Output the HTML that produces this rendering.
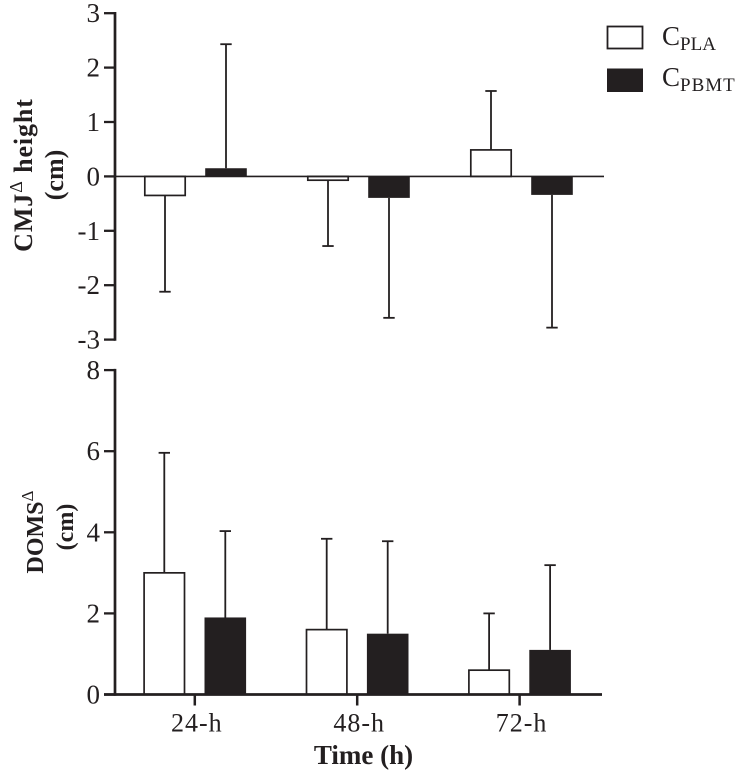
<!DOCTYPE html>
<html>
<head>
<meta charset="utf-8">
<style>
html,body{margin:0;padding:0;background:#fff}
svg{display:block}
text{font-family:"Liberation Serif",serif;fill:#231f20}
</style>
</head>
<body>
<svg id="chart" width="739" height="774" viewBox="0 0 739 774" xmlns="http://www.w3.org/2000/svg">
  <g>
    <rect x="607.5" y="26.5" width="35" height="22" fill="#fff" stroke="#231f20" stroke-width="1.8"/>
    <text x="662" y="45" font-size="27">C<tspan font-size="19" dy="5">PLA</tspan></text>
    <rect x="607" y="68.5" width="36" height="23.5" fill="#231f20"/>
    <text x="662" y="86" font-size="27">C<tspan font-size="19" dy="5" letter-spacing="1">PBMT</tspan></text>
  </g>
  <g>
    <text transform="translate(32,175) rotate(-90)" text-anchor="middle" font-size="26" font-weight="bold" letter-spacing="0.9">CMJ<tspan font-weight="normal" font-size="18" dy="-10">Δ</tspan><tspan dy="10"> height</tspan></text>
    <text transform="translate(63,175) rotate(-90)" text-anchor="middle" font-size="26" font-weight="bold">(cm)</text>
  </g>
  <g>
    <text transform="translate(43,532) rotate(-90)" text-anchor="middle" font-size="24" font-weight="bold">DOMS<tspan font-weight="normal" font-size="17" dy="-10">Δ</tspan></text>
    <text transform="translate(73,527) rotate(-90)" text-anchor="middle" font-size="24" font-weight="bold">(cm)</text>
  </g>
  <text x="363.5" y="764" text-anchor="middle" font-size="27" font-weight="bold">Time (h)</text>
  <g id="plots"></g>
</svg>
<script>
const categories = ['24-h', '48-h', '72-h'];
const cmjTicks = [3, 2, 1, 0, -1, -2, -3];
const domsTicks = [8, 6, 4, 2, 0];
const cmjPla = [-0.35, -0.07, 0.487];
const cmjPbmt = [0.15, -0.395, -0.34];
const cmjPlaErrorEnd = [-2.12, -1.28, 1.57];
const cmjPbmtErrorEnd = [2.43, -2.6, -2.78];
const domsPla = [3.0, 1.6, 0.6];
const domsPbmt = [1.9, 1.5, 1.1];
const domsPlaErrorEnd = [5.96, 3.84, 2.0];
const domsPbmtErrorEnd = [4.03, 3.78, 3.19];

const NS = 'http://www.w3.org/2000/svg';
const ink = '#231f20';
const root = document.getElementById('plots');

function make(tag, attrs) {
  const el = document.createElementNS(NS, tag);
  for (const k in attrs) el.setAttribute(k, attrs[k]);
  root.appendChild(el);
  return el;
}
function yCmj(v) { return 176.4 - v * 54.4; }
function yDoms(v) { return 694.5 - v * 40.55; }
function xCmj(i) { return 195.5 + i * 163; }
function xDoms(i) { return 194.8 + i * 162.4; }

function drawBars(values, ends, yFn, xFn, offset, filled, prefix) {
  values.forEach(function (v, i) {
    const cx = xFn(i) + offset;
    const yE = yFn(ends[i]);
    const yV = yFn(v);
    const stem = make('line', {x1: cx, x2: cx, y1: yE, y2: yV, stroke: ink, 'stroke-width': 1.8});
    
    
    const cap = make('line', {x1: cx - 5.7, x2: cx + 5.7, y1: yE, y2: yE, stroke: ink, 'stroke-width': 1.8});
    
    
    const y0 = yFn(0);
    const top = Math.min(yV, y0);
    const h = Math.abs(y0 - yV);
    const bar = filled
      ? make('rect', {x: cx - 20.8, y: top, width: 41.6, height: h, fill: ink})
      : make('rect', {x: cx - 20.2, y: top, width: 40.4, height: h, fill: '#fff', stroke: ink, 'stroke-width': 1.7});
    
    
  });
}

function drawYAxis(ticks, yFn, prefix) {
  const axis = make('line', {x1: 115, x2: 115, y1: yFn(ticks[0]) - 1.2, y2: yFn(ticks[ticks.length - 1]) + 1.2, stroke: ink, 'stroke-width': 2.7});
  
  
  ticks.forEach(function (t) {
    const tick = make('line', {x1: 104, x2: 115, y1: yFn(t), y2: yFn(t), stroke: ink, 'stroke-width': 2.3});
    
    
    const label = make('text', {x: 100, y: yFn(t) + 9, 'text-anchor': 'end', 'font-size': 27});
    label.textContent = String(t);
    
    
  });
}

// Top panel
drawBars(cmjPla, cmjPlaErrorEnd, yCmj, xCmj, -30.5, false, 'cmj-cpla');
drawBars(cmjPbmt, cmjPbmtErrorEnd, yCmj, xCmj, 30.5, true, 'cmj-cpbmt');
const zeroLine = make('line', {x1: 115, x2: 604, y1: yCmj(0), y2: yCmj(0), stroke: ink, 'stroke-width': 1.6});


drawYAxis(cmjTicks, yCmj, 'cmj');

// Bottom panel
drawBars(domsPla, domsPlaErrorEnd, yDoms, xDoms, -30.5, false, 'doms-cpla');
drawBars(domsPbmt, domsPbmtErrorEnd, yDoms, xDoms, 30.5, true, 'doms-cpbmt');
drawYAxis(domsTicks, yDoms, 'doms');
const xAxis = make('line', {x1: 104, x2: 602, y1: yDoms(0), y2: yDoms(0), stroke: ink, 'stroke-width': 2.7});


categories.forEach(function (c, i) {
  const cx = xDoms(i);
  const tick = make('line', {x1: cx, x2: cx, y1: yDoms(0), y2: yDoms(0) + 11, stroke: ink, 'stroke-width': 2.5});
  
  
  const label = make('text', {x: cx + 2, y: 731.5, 'text-anchor': 'middle', 'font-size': 26, 'letter-spacing': 1});
  label.textContent = c;
  
  
});
</script>
</body>
</html>
